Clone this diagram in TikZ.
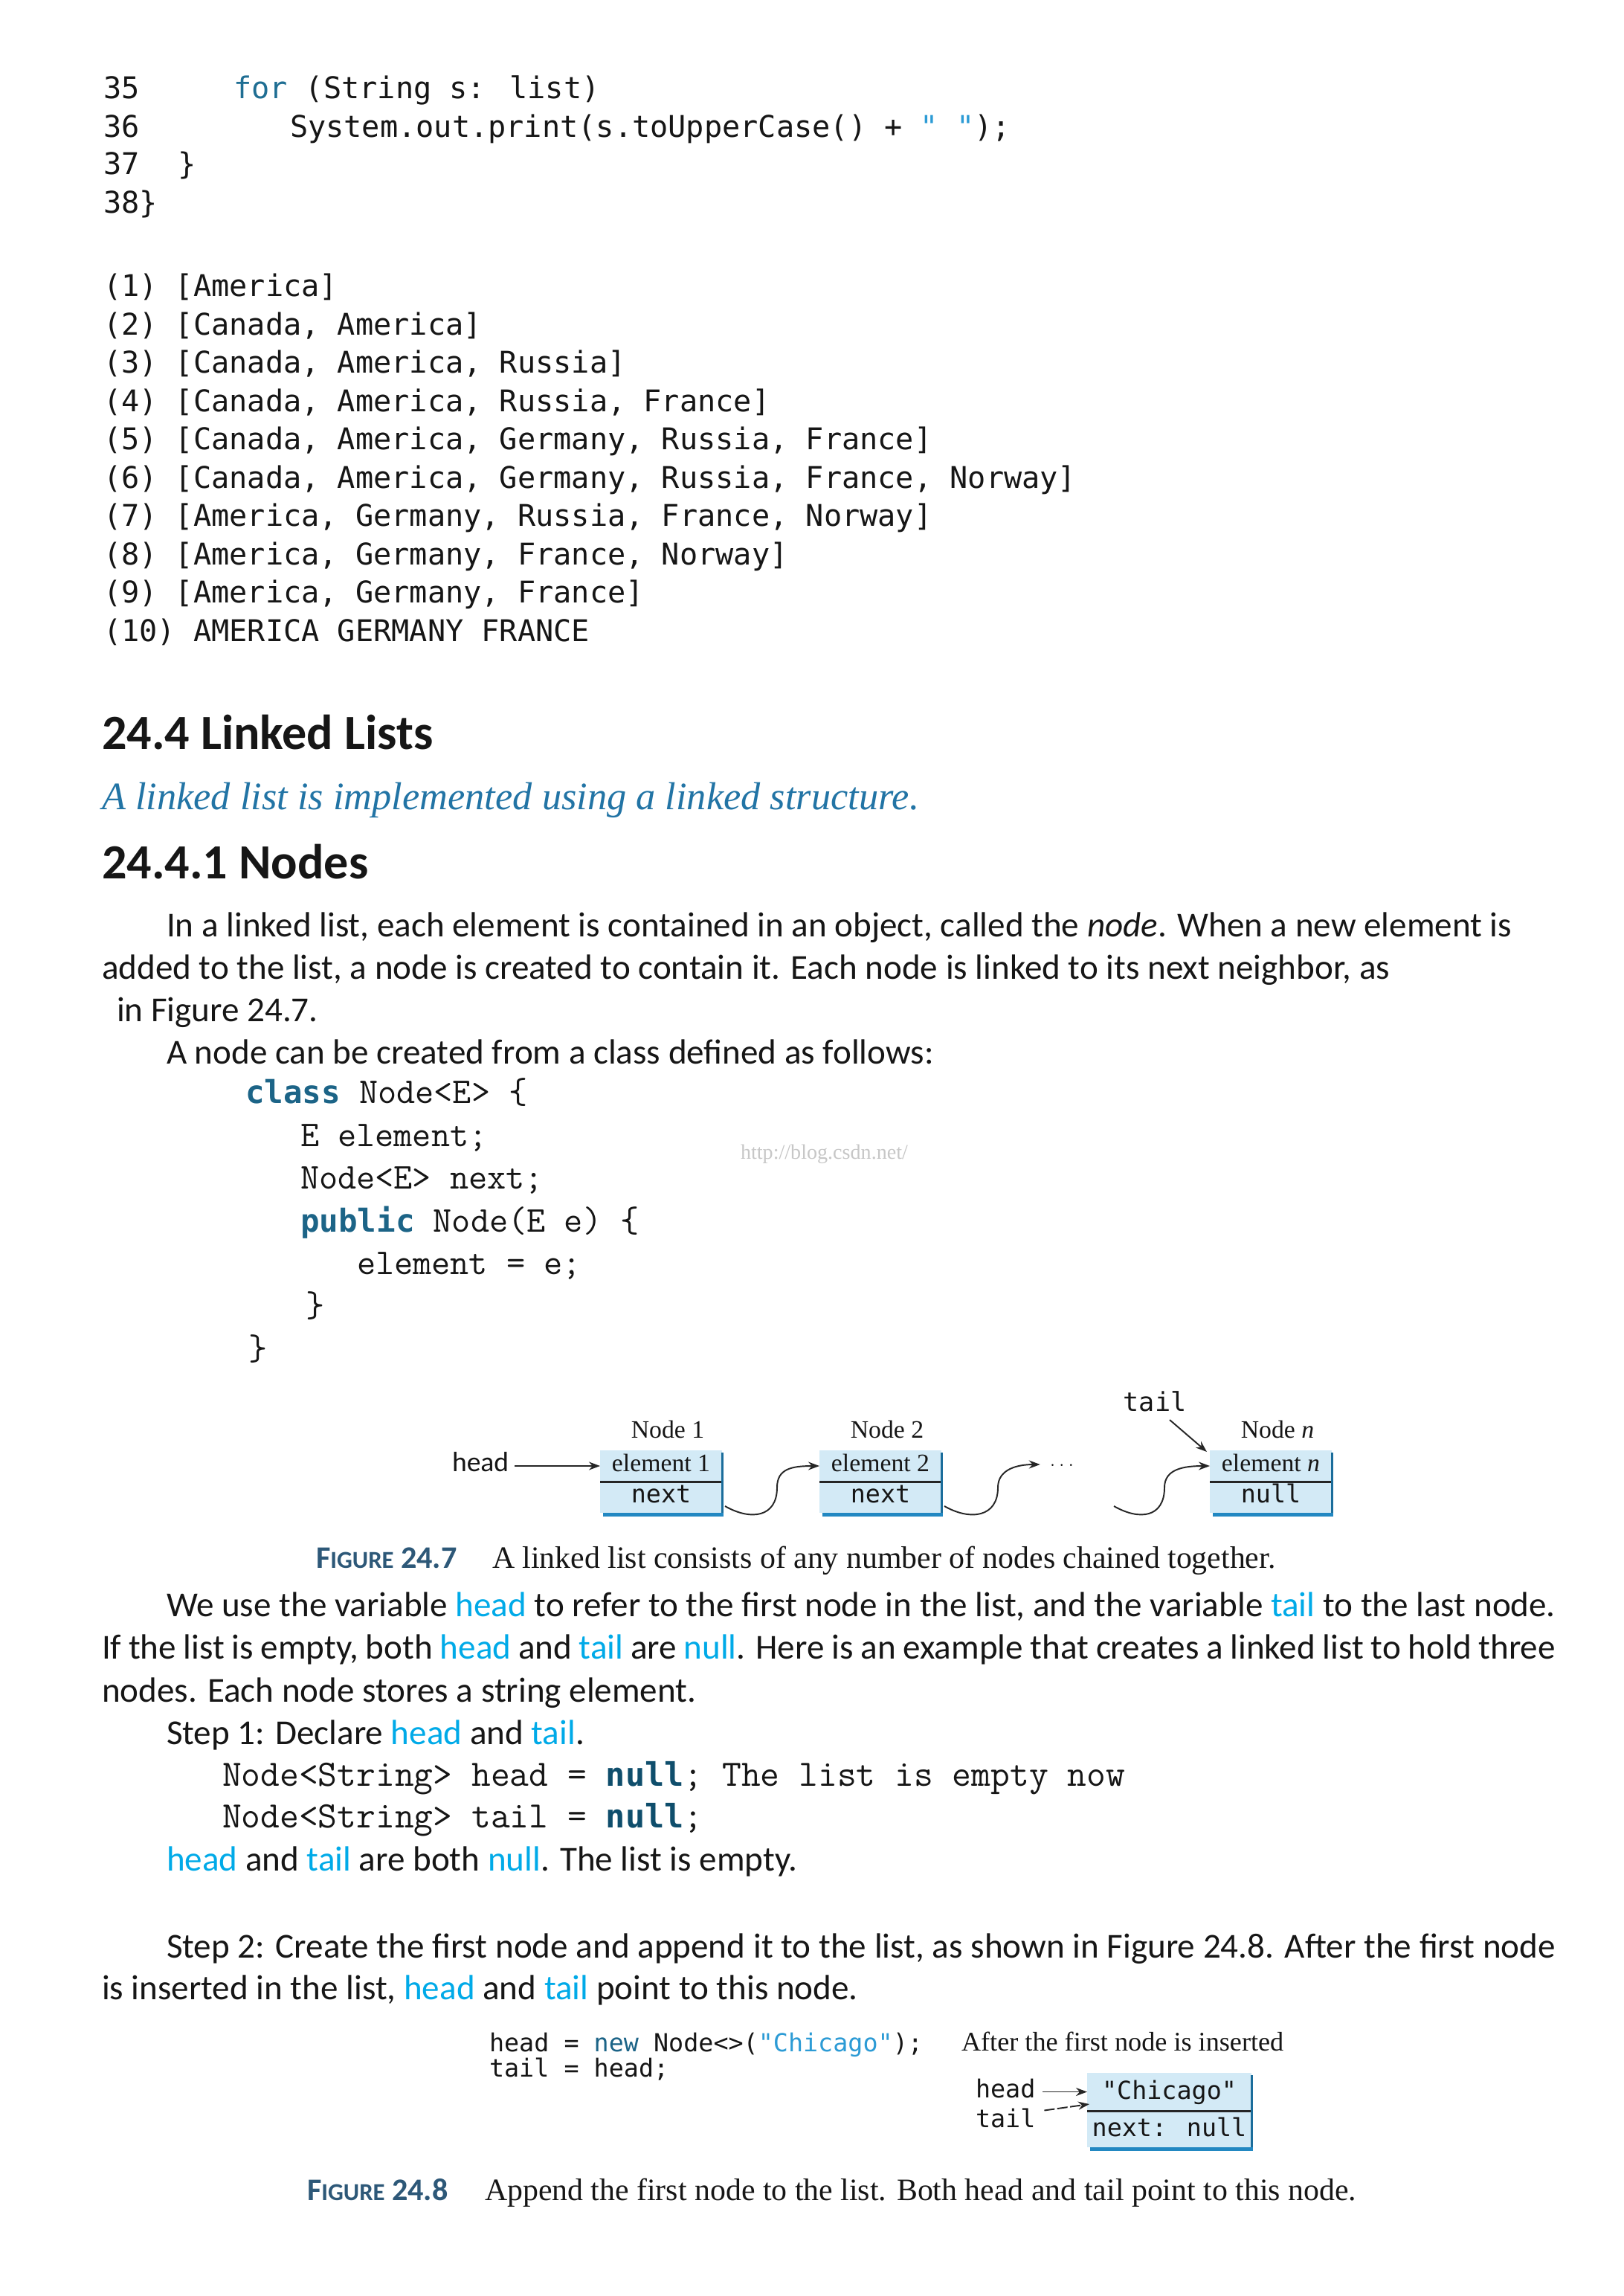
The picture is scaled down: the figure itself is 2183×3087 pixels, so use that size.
\documentclass[tikz,border=0pt]{standalone}
\usepackage{fontspec}
\setmainfont{Carlito}
\newfontfamily\serifr{Liberation Serif}
\newfontfamily\monoA{DejaVu Sans Mono}
\usetikzlibrary{arrows.meta}
\definecolor{txtc}{HTML}{161616}
\definecolor{kw}{HTML}{1F6E93}
\definecolor{kwb}{HTML}{1C6487}
\definecolor{kwn}{HTML}{0F4E6C}
\definecolor{strc}{HTML}{2C9BD5}
\definecolor{itl}{HTML}{2274A5}
\definecolor{hlcol}{HTML}{00AAE8}
\definecolor{figlbl}{HTML}{2D5878}
\definecolor{boxfill}{HTML}{D3EAF6}
\definecolor{boxedge}{HTML}{2288C2}
\newcommand\hlc[1]{\textcolor{hlcol}{#1}}
\newcommand\bodyf{\fontsize{13.4}{16}\selectfont}
\newcommand\headf{\fontsize{18.8}{22}\selectfont\bfseries}
\newcommand\codeA{\monoA\fontsize{11.45}{14}\selectfont}
\newcommand\codeB{\ttfamily\fontsize{13.9}{17}\selectfont}
\newcommand\codeC{\ttfamily\fontsize{14.25}{17}\selectfont}
\newcommand\kwB[1]{{\monoA\bfseries\fontsize{12.1}{14}\selectfont\color{kwb}#1}}
\newcommand\kwC[1]{{\monoA\bfseries\fontsize{12.4}{14}\selectfont\color{kwn}#1}}
\newcommand\figmono{\monoA\fontsize{9.5}{11}\selectfont}
\newcommand\figser{\serifr\fontsize{9.6}{11}\selectfont}
\newcommand\capser{\serifr\fontsize{11.9}{14}\selectfont}
\newcommand\figlab[1]{{\color{figlbl}\bfseries\fontsize{12}{14}\selectfont F\fontsize{9.3}{11}\selectfont IGURE\fontsize{12}{14}\selectfont{} #1}}
\begin{document}
\begin{tikzpicture}[x=0.1mm,y=-0.1mm,
  txt/.style={anchor=base west,inner sep=0pt,outer sep=0pt,text=txtc},
  ctr/.style={anchor=base,inner sep=0pt,outer sep=0pt,text=txtc},
  cell/.style={fill=boxfill,inner sep=0pt,outer sep=0pt,anchor=north west,
    minimum width=16.4mm,minimum height=4.2mm,text height=1.8mm,text depth=0.4mm,text=txtc},
  cell8/.style={fill=boxfill,inner sep=0pt,outer sep=0pt,anchor=north west,
    minimum width=22.1mm,text height=2.2mm,text depth=0.2mm,text=txtc},
  divider/.style={line width=0.3mm,draw=black!85},
  edgeR/.style={line width=0.3mm,draw=boxedge!80!black},
  edgeB/.style={line width=0.5mm,draw=boxedge},
  conn/.style={line width=0.55pt,draw=black!85,-{Stealth[length=1.5mm,width=1.1mm]}}]
\fill[white] (0,0) rectangle (2183,3087);
\useasboundingbox (0,0) rectangle (2183,3087);

% ---- top code ----
\node[txt] (l35) at (139,133) {\codeA 35};
\node[txt] (c35) at (314,133) {\codeA{\color{kw}for} (String s: list)};
\node[txt] (l36) at (139,185) {\codeA 36};
\node[txt] (c36) at (390,185) {\codeA System.out.print(s.toUpperCase() + {\color{strc}" "});};
\node[txt] (l37) at (139,235) {\codeA 37};
\node[txt] (c37) at (239,235) {\codeA \}};
\node[txt] (l38) at (139,287) {\codeA 38\}};

\node[txt] (o1) at (139,399) {\codeA (1) [America]};
\node[txt] (o2) at (139,450.5) {\codeA (2) [Canada, America]};
\node[txt] (o3) at (139,502) {\codeA (3) [Canada, America, Russia]};
\node[txt] (o4) at (139,553.5) {\codeA (4) [Canada, America, Russia, France]};
\node[txt] (o5) at (139,605) {\codeA (5) [Canada, America, Germany, Russia, France]};
\node[txt] (o6) at (139,656.5) {\codeA (6) [Canada, America, Germany, Russia, France, Norway]};
\node[txt] (o7) at (139,708) {\codeA (7) [America, Germany, Russia, France, Norway]};
\node[txt] (o8) at (139,759.5) {\codeA (8) [America, Germany, France, Norway]};
\node[txt] (o9) at (139,811) {\codeA (9) [America, Germany, France]};
\node[txt] (o10) at (139,862.5) {\codeA (10) AMERICA GERMANY FRANCE};

% ---- headings ----
\node[txt] (h1) at (137,1007) {\headf 24.4 Linked Lists};
\node[txt,text=itl] (it) at (137,1088) {\serifr\itshape\fontsize{14.9}{18}\selectfont A linked list is implemented using a linked structure.};
\node[txt] (h2) at (137,1181) {\headf 24.4.1 Nodes};

% ---- paragraph 1 ----
\node[txt] (p1) at (224,1259) {\bodyf In a linked list, each element is contained in an object, called the \textit{node}. When a new element is};
\node[txt] (p2) at (137,1316) {\bodyf added to the list, a node is created to contain it. Each node is linked to its next neighbor, as};
\node[txt] (p3) at (157,1373) {\bodyf in Figure 24.7.};
\node[txt] (p4) at (224,1430) {\bodyf A node can be created from a class defined as follows:};

% ---- class code ----
\node[txt] (k1) at (330,1483) {\codeB\kwB{class} Node<E> \{};
\node[txt] (k2) at (404,1541) {\codeB E element;};
\node[txt] (k3) at (404,1598) {\codeB Node<E> next;};
\node[txt] (k4) at (404,1656) {\codeB\kwB{public} Node(E e) \{};
\node[txt] (k5) at (480,1713) {\codeB element = e;};
\node[txt] (k6) at (411,1770) {\codeB \}};
\node[txt] (k7) at (334,1828) {\codeB \}};
\node[txt,text=black!22] (wm) at (996,1558) {\serifr\fontsize{8}{9}\selectfont http://blog.csdn.net/};

% ---- Figure 24.7 ----
\node[txt] (headA) at (608,1978) {\fontsize{10.7}{12}\selectfont head};
\node[cell] (n1e) at (807,1950) {\figser element 1};
\node[cell] (n1n) at (n1e.south west) {\figmono next};
\node[cell] (n2e) at (1102,1950) {\figser element 2};
\node[cell] (n2n) at (n2e.south west) {\figmono next};
\node[cell] (nne) at (1627,1950) {\figser element \textit{n}};
\node[cell] (nnn) at (nne.south west) {\figmono null};
\node[ctr] (lab1) at (898,1933) {\figser Node 1};
\node[ctr] (lab2) at (1193,1933) {\figser Node 2};
\node[ctr] (labn) at (1718,1933) {\figser Node \textit{n}};
\node[ctr] (tailA) at (1553,1897) {\monoA\fontsize{10}{12}\selectfont tail};
\node[inner sep=0pt] (dots) at (1428,1970) {\fontsize{6}{7}\selectfont$\cdots$};
\coordinate (c3) at (1498,2025);
\foreach \n in {n1,n2,nn}{
  \draw[divider] (\n e.south west) -- (\n e.south east);
  \draw[edgeR] ([yshift=-0.3mm]\n e.north east) -- ([yshift=-0.2mm]\n n.south east);
  \draw[edgeB] ([xshift=0.4mm,yshift=-0.2mm]\n n.south west) -- ([xshift=0.15mm,yshift=-0.2mm]\n n.south east);
}
\draw[conn] (headA.east |- n1e.west) ++(8,0) -- (n1e.west);
\draw[conn] ([xshift=0.4mm,yshift=-1.2mm]n1n.east) .. controls +(35,20) and +(0,40) .. ++(70,-25)
  .. controls +(0,-25) and +(-38,0) .. (n2e.west);
\draw[conn] ([xshift=0.4mm,yshift=-1.2mm]n2n.east) .. controls +(35,20) and +(0,40) .. ++(72,-25)
  .. controls +(0,-25) and +(-30,0) .. ([xshift=-1.2mm,yshift=0.1mm]dots.west);
\draw[conn] (c3) .. controls +(35,20) and +(0,40) .. ++(68,-25)
  .. controls +(0,-25) and +(-35,0) .. (nne.west);
\draw[conn] ([xshift=2mm,yshift=-1.2mm]tailA.base) -- ([xshift=-0.4mm,yshift=-0.2mm]nne.north west);
\node[txt] (cap1a) at (425,2108) {\figlab{24.7}};
\node[txt] (cap1b) at (662,2108) {\capser A linked list consists of any number of nodes chained together.};

% ---- paragraph 2 ----
\node[txt] (q1) at (224,2173) {\bodyf\makebox[186.8mm][s]{We use the variable \hlc{head} to refer to the first node in the list, and the variable \hlc{tail} to the last node.}};
\node[txt] (q2) at (137,2230) {\bodyf\makebox[195.5mm][s]{If the list is empty, both \hlc{head} and \hlc{tail} are \hlc{null}. Here is an example that creates a linked list to hold three}};
\node[txt] (q3) at (137,2288) {\bodyf nodes. Each node stores a string element.};
\node[txt] (q4) at (224,2345) {\bodyf Step 1: Declare \hlc{head} and \hlc{tail}.};
\node[txt] (s1) at (299,2401) {\codeC Node<String> head = \kwC{null}; The list is empty now};
\node[txt] (s2) at (299,2457) {\codeC Node<String> tail = \kwC{null};};
\node[txt] (q5) at (224,2515) {\bodyf\hlc{head} and \hlc{tail} are both \hlc{null}. The list is empty.};
\node[txt] (q6) at (224,2632) {\bodyf\makebox[186.8mm][s]{Step 2: Create the first node and append it to the list, as shown in Figure 24.8. After the first node}};
\node[txt] (q7) at (137,2688) {\bodyf is inserted in the list, \hlc{head} and \hlc{tail} point to this node.};

% ---- Figure 24.8 ----
\node[txt] (f1) at (658,2758) {\monoA\fontsize{9.5}{11}\selectfont head = {\color{kwb}new} Node<>({\color{strc}"Chicago"});};
\node[txt] (f2) at (658,2792) {\monoA\fontsize{9.5}{11}\selectfont tail = head;};
\node[txt] (aft) at (1293,2757) {\serifr\fontsize{10.3}{12}\selectfont After the first node is inserted};
\node[cell8,minimum height=5.1mm] (chiT) at (1462,2787) {\figmono "Chicago"};
\node[cell8,minimum height=4.9mm] (chiN) at (chiT.south west) {\figmono next: null};
\draw[divider] (chiT.south west) -- (chiT.south east);
\draw[edgeR] ([yshift=-0.3mm]chiT.north east) -- ([yshift=-0.2mm]chiN.south east);
\draw[edgeB] ([xshift=0.4mm,yshift=-0.2mm]chiN.south west) -- ([xshift=0.15mm,yshift=-0.2mm]chiN.south east);
\node[txt] (h8) at (1312,2820) {\figmono head};
\node[txt] (t8) at (1312,2860) {\figmono tail};
\draw[conn] ([xshift=1mm]h8.east |- chiT.west) -- (chiT.west);
\draw[conn,dash pattern=on 1.4mm off 0.35mm] ([xshift=1.2mm,yshift=1mm]t8.east) -- ([xshift=0.3mm,yshift=0.9mm]chiT.south west);
\node[txt] (cap2a) at (413,2958) {\figlab{24.8}};
\node[txt] (cap2b) at (652,2958) {\capser Append the first node to the list. Both head and tail point to this node.};
\end{tikzpicture}
\end{document}
